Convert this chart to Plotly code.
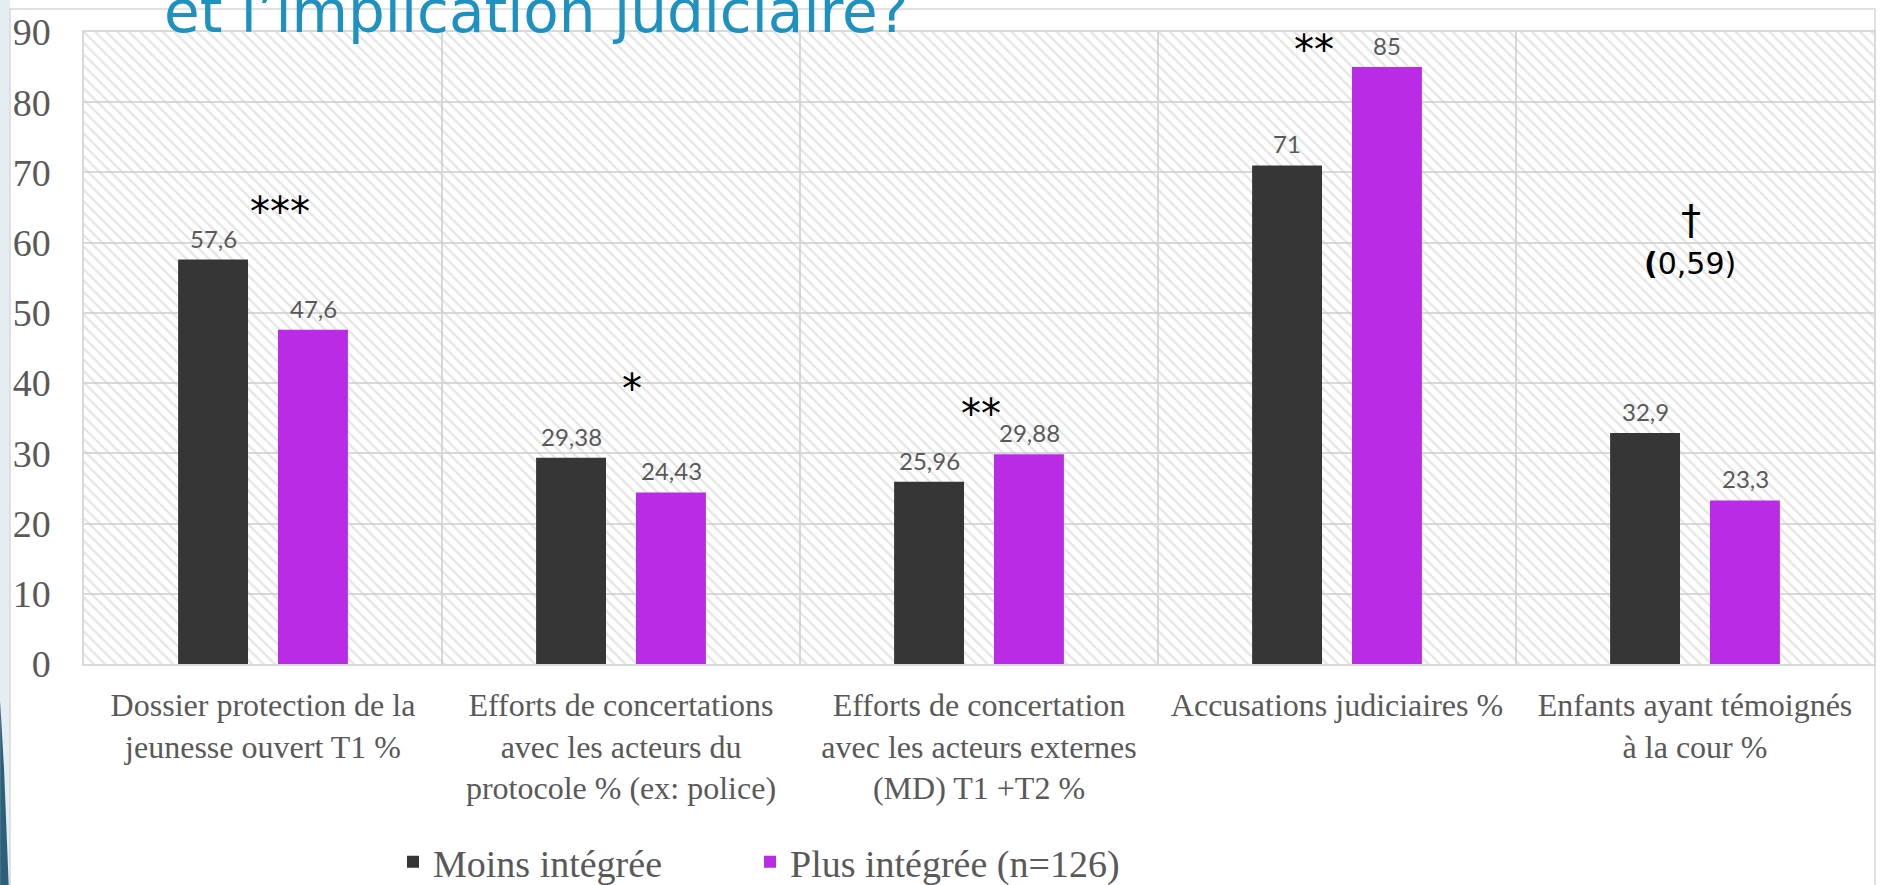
import plotly.graph_objects as go

# ---------------- data ----------------
categories = [
    "Dossier protection de la<br>jeunesse ouvert T1 %",
    "Efforts de concertations<br>avec les acteurs du<br>protocole % (ex: police)",
    "Efforts de concertation<br>avec les acteurs externes<br>(MD) T1 +T2 %",
    "Accusations judiciaires %",
    "Enfants ayant témoignés<br>à la cour %",
]
series_names = ["Moins intégrée", "Plus intégrée (n=126)"]
moins_integree = [57.6, 29.38, 25.96, 71, 32.9]
plus_integree = [47.6, 24.43, 29.88, 85, 23.3]
significance = ["***", "*", "**", "**", "†"]
p_note = "(0,59)"
y_tick_values = [0, 10, 20, 30, 40, 50, 60, 70, 80, 90]
title_text = "et l’implication judiciaire?"

# ---------------- layout constants ----------------
W, H = 1882, 885
ML, MR, MT, MB = 84, 6, 32, 221
PW, PH = W - ML - MR, H - MT - MB
DARK = "#363636"
PURPLE = "#B92BE5"
GRID = "#d9d9d9"
GRAYTXT = "#595959"
SERIF = "Liberation Serif"
SANS = "Lato"
SANS2 = "DejaVu Sans"


def px_x(p):
    return (p - ML) / PW


def px_y(p):
    return (H - MB - p) / PH


def fmt(v):
    return f"{v:g}".replace(".", ",")


fig = go.Figure()

# hatched background of plot area (base axis x)
fig.add_trace(go.Bar(
    x=[0.5], y=[max(y_tick_values)], width=[1],
    xaxis="x", yaxis="y",
    marker=dict(color="rgba(0,0,0,0)", line=dict(width=0),
                pattern=dict(shape="\\", fgcolor="#cccccc", size=8, solidity=0.3)),
    showlegend=False, hoverinfo="skip",
))

annotations = []
for name, vals, col, shift, lw in [(series_names[0], moins_integree, DARK, -50, 312),
                                   (series_names[1], plus_integree, PURPLE, 50, 430)]:
    fig.add_trace(go.Bar(
        name=name, x=categories, y=vals, xaxis="x2", yaxis="y",
        marker=dict(color=col, line=dict(width=0)),
        legendwidth=lw,
        hoverinfo="x+y+name",
    ))
    for cat, v in zip(categories, vals):
        annotations.append(dict(
            x=cat, y=v, xref="x2", yref="y", xshift=shift, yshift=5,
            text=fmt(v), showarrow=False, xanchor="center", yanchor="bottom",
            font=dict(family=SANS, size=24, color=GRAYTXT),
        ))

# significance annotations (placement: data y, pixel xshift, pixel yshift)
sig_pos = [(65.6, 17, -9), (40.4, 11, -9), (36.9, 2, -9), (88.7, -23, -9), (63.2, -4, 0)]
for cat, mark, (yy, xs, ys) in zip(categories, significance, sig_pos):
    annotations.append(dict(
        x=cat, y=yy, xref="x2", yref="y", xshift=xs, yshift=ys,
        text=mark, showarrow=False, xanchor="center", yanchor="middle",
        font=dict(family=SANS2, size=40, color="#000000"),
    ))
annotations.append(dict(
    x=categories[4], y=57.0, xref="x2", yref="y", xshift=-5,
    text="<b>(</b>" + p_note[1:], showarrow=False, xanchor="center", yanchor="middle",
    font=dict(family=SANS2, size=30, color="#000000"),
))
annotations.append(dict(
    x=px_x(162), y=px_y(12), xref="paper", yref="paper",
    text=title_text, showarrow=False, xanchor="left", yanchor="middle",
    font=dict(family=SANS2, size=58, color="#1D91C0"),
))

shapes = [
    # left decorative strip
    dict(type="rect", xref="paper", yref="paper", x0=px_x(0), x1=px_x(10),
         y0=px_y(H + 20), y1=px_y(-20), fillcolor="#e3edf2", line=dict(width=0), layer="below"),
    dict(type="path", xref="paper", yref="paper",
         path=(f"M {px_x(0)},{px_y(700)} L {px_x(4)},{px_y(770)} L {px_x(9)},{px_y(H+10)} "
               f"L {px_x(0)},{px_y(H+10)} Z"),
         fillcolor="#2e5f7a", line=dict(width=0), layer="below"),
    # chart frame
    dict(type="rect", xref="paper", yref="paper", x0=px_x(10), x1=px_x(1877),
         y0=px_y(H + 40), y1=px_y(9), line=dict(color=GRID, width=1.5), layer="below"),
]

fig.update_layout(
    width=W, height=H,
    margin=dict(l=ML, r=MR, t=MT, b=MB, pad=0),
    paper_bgcolor="white", plot_bgcolor="white",
    barmode="group", bargap=0.442, bargroupgap=0.30,
    xaxis=dict(range=[0, 1], visible=False, showgrid=False, fixedrange=True),
    xaxis2=dict(type="category", overlaying="x", anchor="y", side="bottom",
                tickson="boundaries", showgrid=True, gridcolor=GRID, gridwidth=1.5,
                showline=True, linecolor=GRID, linewidth=1.5, mirror=True,
                ticks="", ticklabelstandoff=12,
                tickfont=dict(family=SERIF, size=32, color=GRAYTXT)),
    yaxis=dict(range=[0, 90], tickvals=y_tick_values, showgrid=True, gridcolor=GRID,
               gridwidth=1.5, zeroline=False, showline=True, linecolor=GRID,
               linewidth=1.5, mirror=True, ticks="", ticklabelstandoff=24,
               tickfont=dict(family=SERIF, size=38, color=GRAYTXT)),
    legend=dict(orientation="h", xref="container", yref="container",
                x=393 / W, y=1 - 862 / H, xanchor="left", yanchor="middle",
                font=dict(family=SERIF, size=38, color=GRAYTXT),
                bgcolor="rgba(0,0,0,0)"),
    annotations=annotations,
    shapes=shapes,
    showlegend=True,
)

fig.write_html(
    "out.html",
    config={"displayModeBar": False},
    post_script="document.body.style.margin='0px';document.body.style.overflow='hidden';",
)
